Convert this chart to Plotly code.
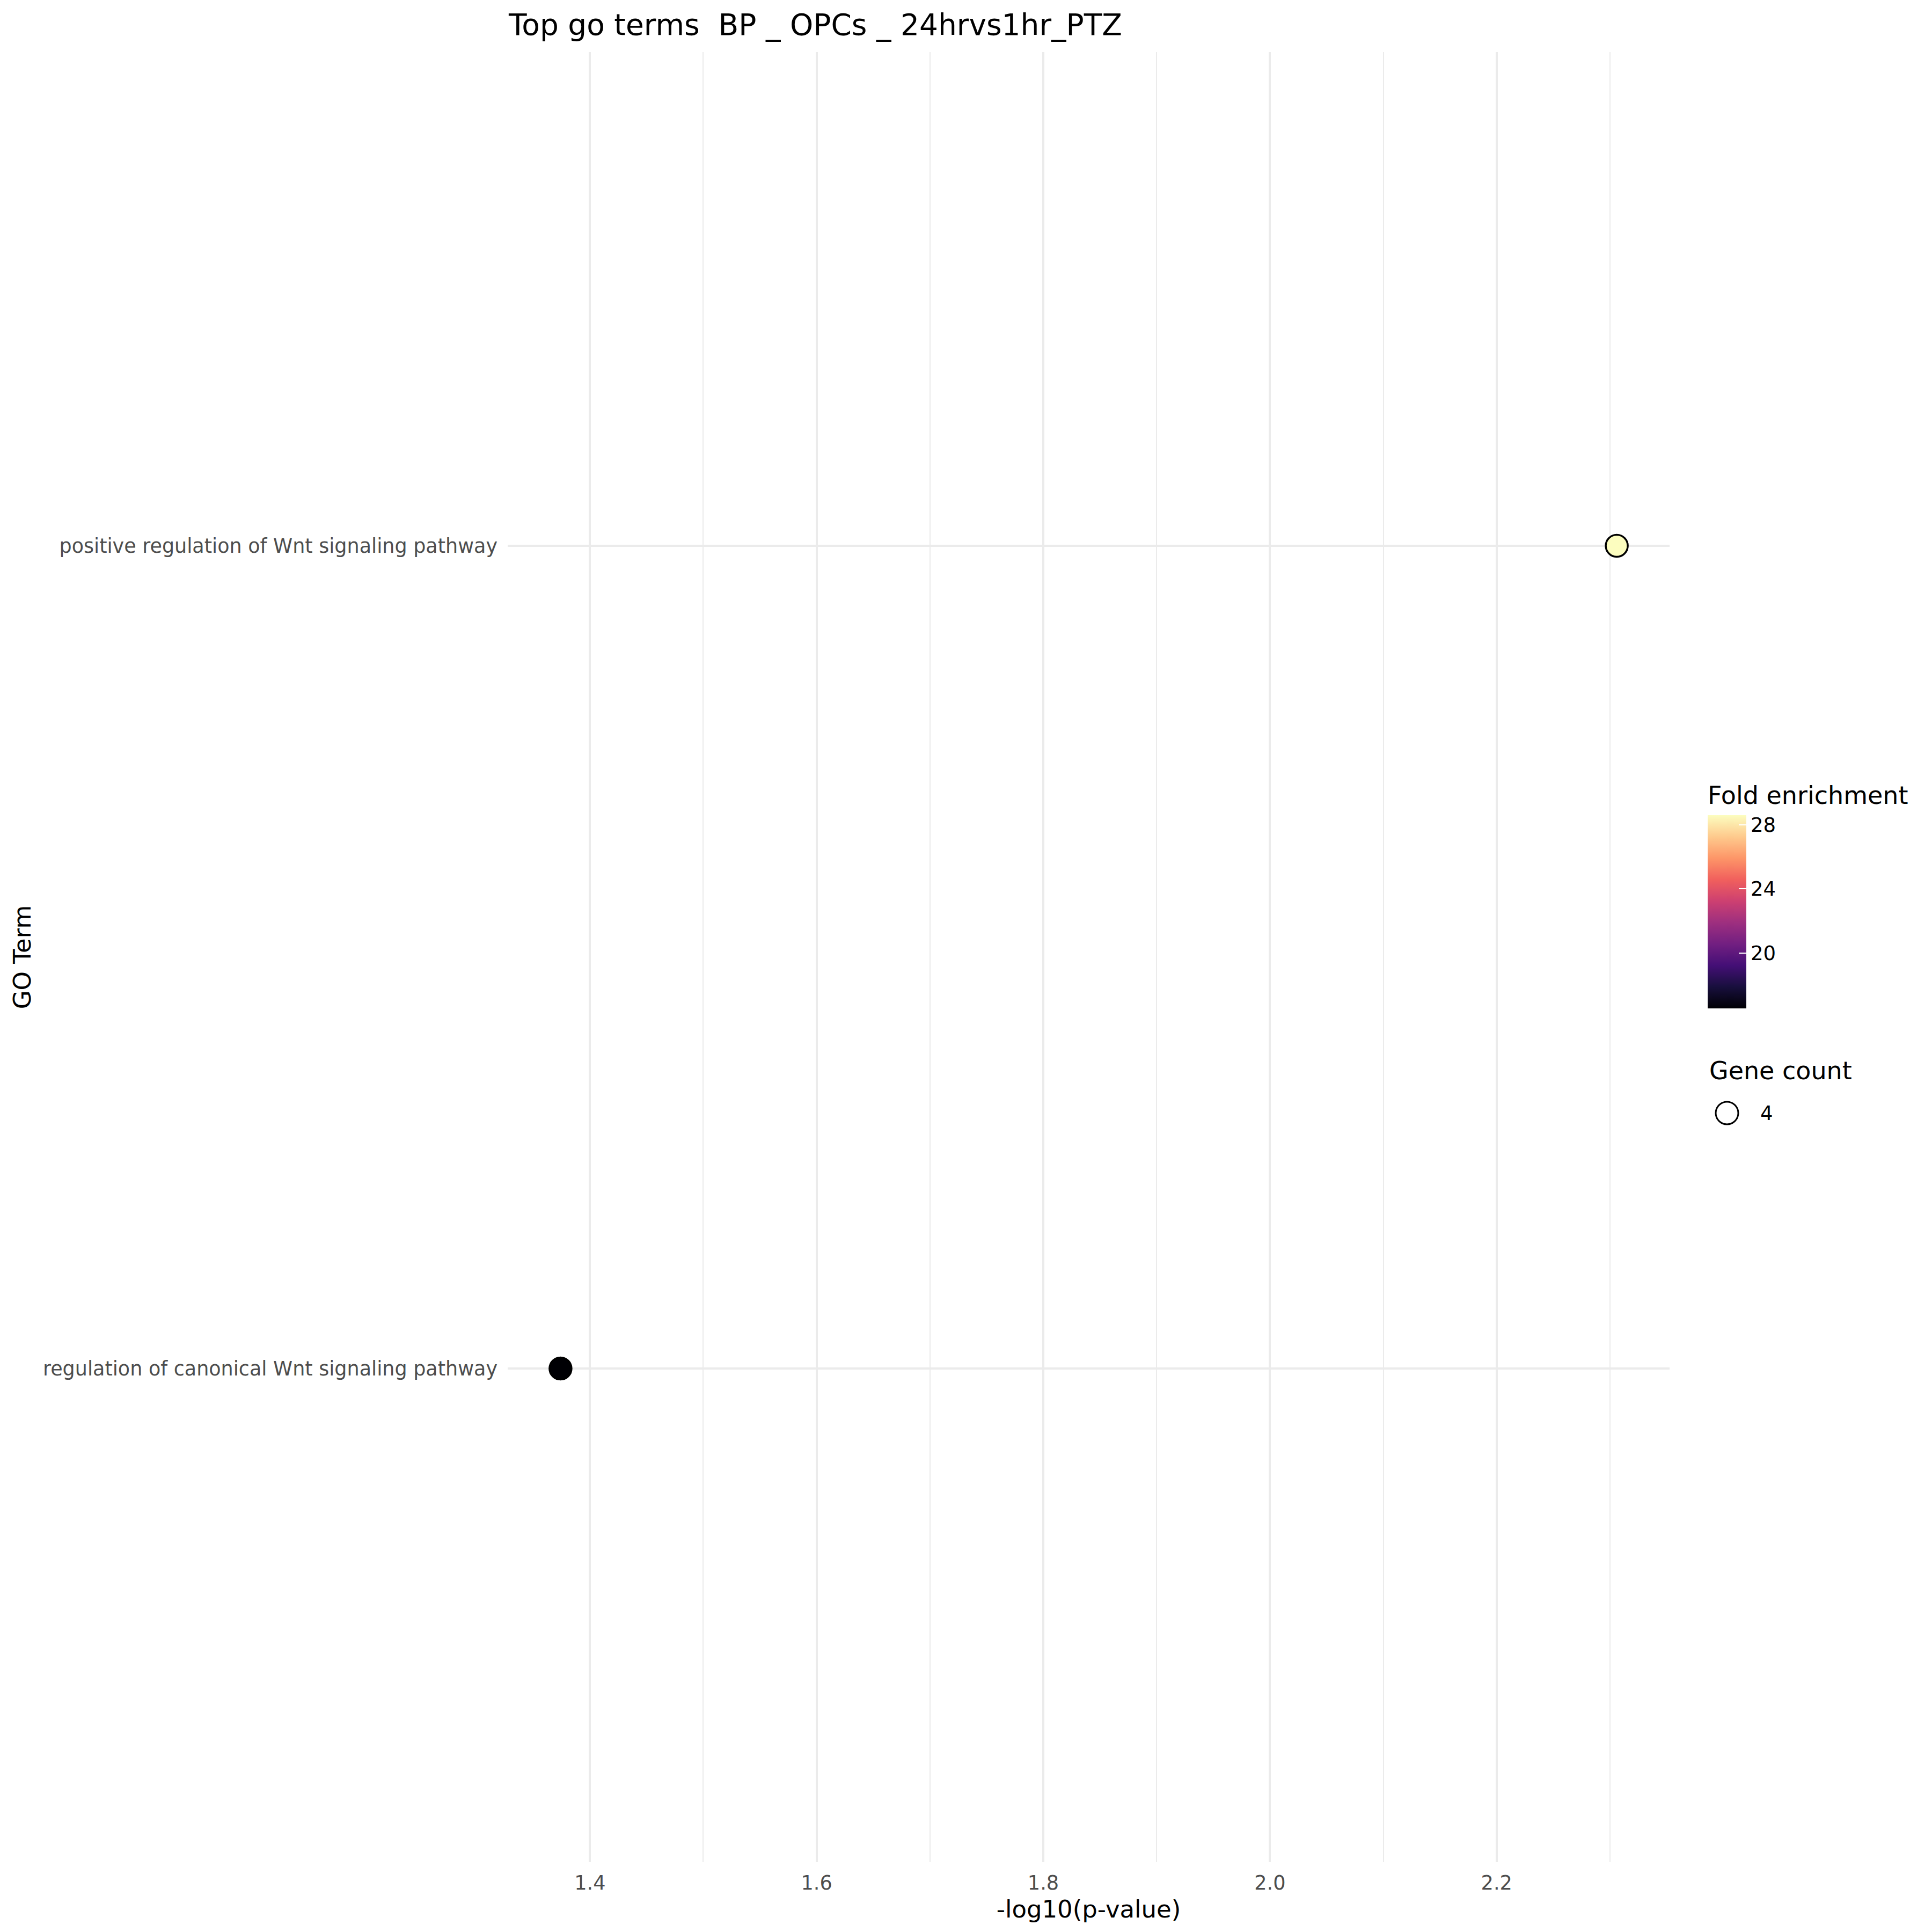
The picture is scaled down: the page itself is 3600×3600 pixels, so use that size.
import plotly.graph_objects as go

# ---- data ----
terms = [
    "regulation of canonical Wnt signaling pathway",
    "positive regulation of Wnt signaling pathway",
]
neg_log10_p = [1.374, 2.306]
fold_enrichment = [16.55, 28.6]
gene_count = [4, 4]

x_ticks = [1.4, 1.6, 1.8, 2.0, 2.2]
cbar_ticks = [20, 24, 28]

W = H = 3600
L, R, T, B = 946, 3600 - 3111, 97, 3600 - 3470
PW, PH = W - L - R, H - T - B

def px(xp):
    return (xp - L) / PW

def py(yp):
    return (H - B - yp) / PH

span = max(neg_log10_p) - min(neg_log10_p)
x_range = [min(neg_log10_p) - 0.05 * span, max(neg_log10_p) + 0.05 * span]

FONT = "DejaVu Sans"

fig = go.Figure()
fig.add_trace(go.Scatter(
    x=neg_log10_p,
    y=terms,
    mode="markers",
    showlegend=False,
    marker=dict(
        size=gene_count,
        sizemode="diameter",
        sizeref=4 / 41,
        opacity=1,
        color=fold_enrichment,
        colorscale="Magma",
        line=dict(color="black", width=3.5),
        colorbar=dict(
            title=dict(text="Fold enrichment", side="top",
                       font=dict(size=46, color="black", family=FONT)),
            thickness=72, thicknessmode="pixels",
            len=419, lenmode="pixels",
            x=px(3182), xanchor="left", xpad=0,
            y=py(1460), yanchor="top", ypad=0,
            outlinewidth=0,
            tickvals=cbar_ticks,
            ticks="inside", ticklen=14, tickwidth=2, tickcolor="white",
            tickfont=dict(size=37, color="black", family=FONT),
            ticklabelposition="outside",
        ),
    ),
))

fig.update_layout(
    width=W, height=H,
    margin=dict(l=L, r=R, t=T, b=B, autoexpand=False),
    paper_bgcolor="white",
    plot_bgcolor="white",
    font=dict(family=FONT, color="black"),
    title=dict(
        text="Top go terms  BP _ OPCs _ 24hrvs1hr_PTZ",
        x=948 / W, xanchor="left", xref="container",
        y=1 - 46 / H, yanchor="middle", yref="container",
        font=dict(size=55, color="black", family=FONT),
    ),
    xaxis=dict(
        range=x_range,
        tickvals=x_ticks,
        ticktext=[f"{v:.1f}" for v in x_ticks],
        showgrid=True, gridcolor="#EBEBEB", gridwidth=4,
        minor=dict(dtick=0.1, tick0=1.4, showgrid=True,
                   gridcolor="#EBEBEB", gridwidth=2),
        zeroline=False, showline=False, ticks="",
        ticklabelstandoff=13,
        tickfont=dict(size=36.7, color="#4D4D4D", family=FONT),
        title=dict(text="-log10(p-value)", standoff=12,
                   font=dict(size=45, color="black", family=FONT)),
        automargin=False,
    ),
    yaxis=dict(
        type="category",
        categoryorder="array", categoryarray=terms,
        range=[-0.6, len(terms) - 1 + 0.6],
        showgrid=True, gridcolor="#EBEBEB", gridwidth=4,
        zeroline=False, showline=False, ticks="",
        ticklabelstandoff=18,
        tickfont=dict(size=36.5, color="#4D4D4D", family=FONT),
        title=dict(text="GO Term", standoff=8,
                   font=dict(size=45, color="black", family=FONT)),
        automargin=False,
    ),
)

# Gene count legend (size legend)
fig.add_annotation(
    text="Gene count", xref="paper", yref="paper",
    x=px(3183), y=py(1995), xanchor="left", yanchor="middle",
    showarrow=False, font=dict(size=46, color="black", family=FONT),
)
fig.add_shape(
    type="circle", xref="paper", yref="paper",
    xsizemode="pixel", ysizemode="pixel",
    xanchor=px(3218), yanchor=py(2074),
    x0=-21, x1=21, y0=-21, y1=21,
    line=dict(color="black", width=3), fillcolor="rgba(0,0,0,0)",
)
fig.add_annotation(
    text=str(gene_count[0]), xref="paper", yref="paper",
    x=px(3278), y=py(2074), xanchor="left", yanchor="middle",
    showarrow=False, font=dict(size=37, color="black", family=FONT),
)

fig.write_html("out.html")
